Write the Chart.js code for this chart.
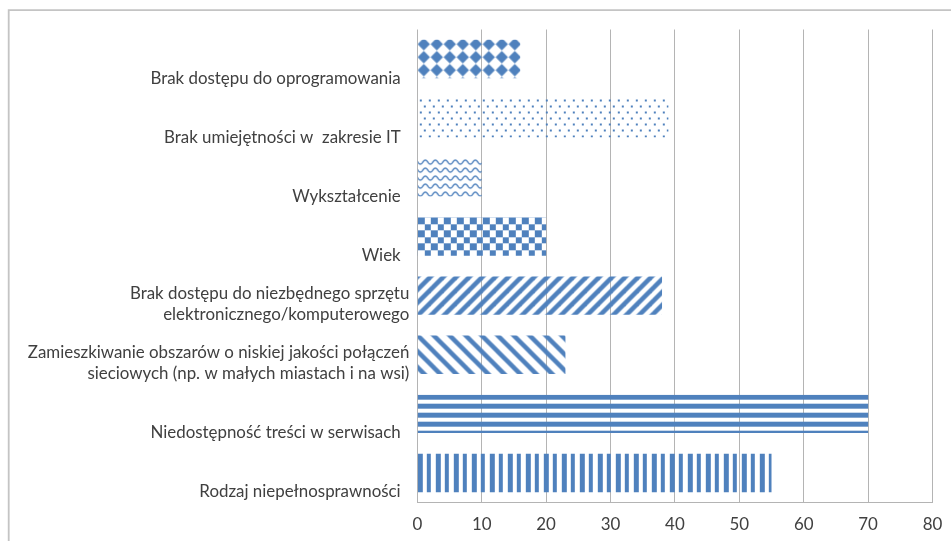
<!DOCTYPE html>
<html>
<head>
<meta charset="utf-8">
<script src="https://cdn.jsdelivr.net/npm/chart.js@4"></script>
<style>
html,body{margin:0;padding:0;background:#fff;}
#wrap{width:951px;height:541px;}
</style>
</head>
<body>
<div id="wrap"><canvas id="c" width="951" height="541"></canvas></div>
<script>
// ---- data ----
const categories = [
  "Brak dostępu do oprogramowania",
  "Brak umiejętności w  zakresie IT",
  "Wykształcenie",
  "Wiek",
  ["Brak dostępu do niezbędnego sprzętu", "elektronicznego/komputerowego"],
  ["Zamieszkiwanie obszarów o niskiej jakości połączeń", "sieciowych (np. w małych miastach i na wsi)"],
  "Niedostępność treści w serwisach",
  "Rodzaj niepełnosprawności"
];
const values = [16, 39, 10, 20, 38, 23, 70, 55];
const xTicks = [0, 10, 20, 30, 40, 50, 60, 70, 80];

// ---- styles ----
const BLUE = '#4F81BD';
const TEXT = '#404040';
const GRID = '#b4b4b4';

const mctx = document.createElement('canvas').getContext('2d');
mctx.font = '100px Lato';
const refW = mctx.measureText('Brak dostępu do oprogramowania').width;
const FS = Math.round(100 * 250 / refW * 10) / 10;

function tile(w, h, draw) {
  const c = document.createElement('canvas');
  c.width = w; c.height = h;
  const g = c.getContext('2d');
  g.fillStyle = BLUE; g.strokeStyle = BLUE;
  draw(g, w, h);
  return mctx.createPattern(c, 'repeat');
}
const patterns = [
  // diamonds
  { p: tile(13, 13, g => { g.beginPath(); g.moveTo(6.5, 0.3); g.lineTo(12.7, 6.5); g.lineTo(6.5, 12.7); g.lineTo(0.3, 6.5); g.closePath(); g.fill(); }), dx: -0.5, dy: -2.2 },
  // dots
  { p: tile(18, 12, g => { g.fillRect(0, 0, 2, 2); g.fillRect(9, 0, 2, 2); g.fillRect(4, 6, 2, 2); g.fillRect(13, 6, 2, 2); }), dx: 2, dy: 0.5 },
  // wave
  { p: tile(10, 8, g => { g.lineWidth = 1.4; g.beginPath(); for (let x = -1; x <= 11; x += 0.5) { const y = 4 + 2 * Math.sin(2 * Math.PI * x / 10); if (x === -1) g.moveTo(x, y); else g.lineTo(x, y); } g.stroke(); }), dx: 0, dy: 0 },
  // checkerboard
  { p: tile(13, 13, g => { g.fillRect(0, 0, 7, 7); g.fillRect(7, 7, 6, 6); }), dx: 0, dy: 0 },
  // wide upward diagonal
  { p: tile(13, 13, g => { g.lineWidth = 4.6; for (const c of [0, 13, 26]) { g.beginPath(); g.moveTo(-5, c + 5); g.lineTo(c + 5, -5); g.stroke(); } }), dx: 0, dy: 0 },
  // wide downward diagonal
  { p: tile(16, 16, g => { g.lineWidth = 4.5; for (const c of [-16, 0, 16]) { g.beginPath(); g.moveTo(-5, c - 5); g.lineTo(21, c + 21); g.stroke(); } }), dx: 0, dy: 0 },
  // horizontal stripes
  { p: tile(4, 9, g => { g.fillRect(0, 0, 4, 5); }), dx: 0, dy: 0 },
  // vertical stripes
  { p: tile(18, 4, g => { g.fillRect(0, 0, 5, 4); g.fillRect(9, 0, 4, 4); }), dx: 0, dy: 0 }
];

const frame = {
  id: 'frame',
  beforeDraw(chart) {
    const ctx = chart.ctx;
    ctx.save();
    ctx.fillStyle = '#fff';
    ctx.fillRect(0, 0, chart.width, chart.height);
    ctx.strokeStyle = '#c4c4c4';
    ctx.lineWidth = 1.8;
    ctx.beginPath();
    ctx.moveTo(8.7, chart.height + 2);
    ctx.lineTo(8.7, 10.2);
    ctx.lineTo(chart.width + 2, 10.2);
    ctx.stroke();
    ctx.restore();
  },
  beforeDatasetsDraw(chart) {
    const meta = chart.getDatasetMeta(0);
    meta.data.forEach((bar, i) => {
      const pt = patterns[i];
      const left = bar.base;
      const top = bar.y - bar.height / 2;
      pt.p.setTransform(new DOMMatrix([1, 0, 0, 1, left + pt.dx, top + pt.dy]));
    });
  }
};

new Chart(document.getElementById('c'), {
  type: 'bar',
  data: {
    labels: categories,
    datasets: [{
      data: values,
      backgroundColor: patterns.map(p => p.p),
      borderWidth: 0,
      categoryPercentage: 1,
      barPercentage: 0.65
    }]
  },
  options: {
    indexAxis: 'y',
    responsive: false,
    animation: false,
    events: [],
    layout: { padding: { top: 29.5, right: 18.5, bottom: 0, left: 0 } },
    plugins: { legend: { display: false }, tooltip: { enabled: false } },
    scales: {
      x: {
        min: 0, max: 80,
        afterBuildTicks: s => { s.ticks = xTicks.map(v => ({ value: v })); },
        afterFit: s => { s.height = 38.4; s.paddingLeft = 0; s.paddingRight = 0; },
        grid: { color: GRID, lineWidth: 1, drawTicks: false },
        border: { display: true, color: GRID, width: 1 },
        ticks: { color: TEXT, font: { family: 'Lato', size: FS }, padding: 12 }
      },
      y: {
        afterFit: s => { s.width = 417.3; s.paddingTop = 0; s.paddingBottom = 0; },
        grid: { display: false, drawTicks: false },
        border: { display: false },
        ticks: {
          autoSkip: false,
          color: TEXT,
          padding: 8,
          labelOffset: 19,
          font: { family: 'Lato', size: FS, lineHeight: 21 / FS },
          callback: (v, i) => {
            const l = categories[i];
            return Array.isArray(l) ? [...l, ''] : l + '  ';
          }
        }
      }
    }
  },
  plugins: [frame]
});
</script>
</body>
</html>
